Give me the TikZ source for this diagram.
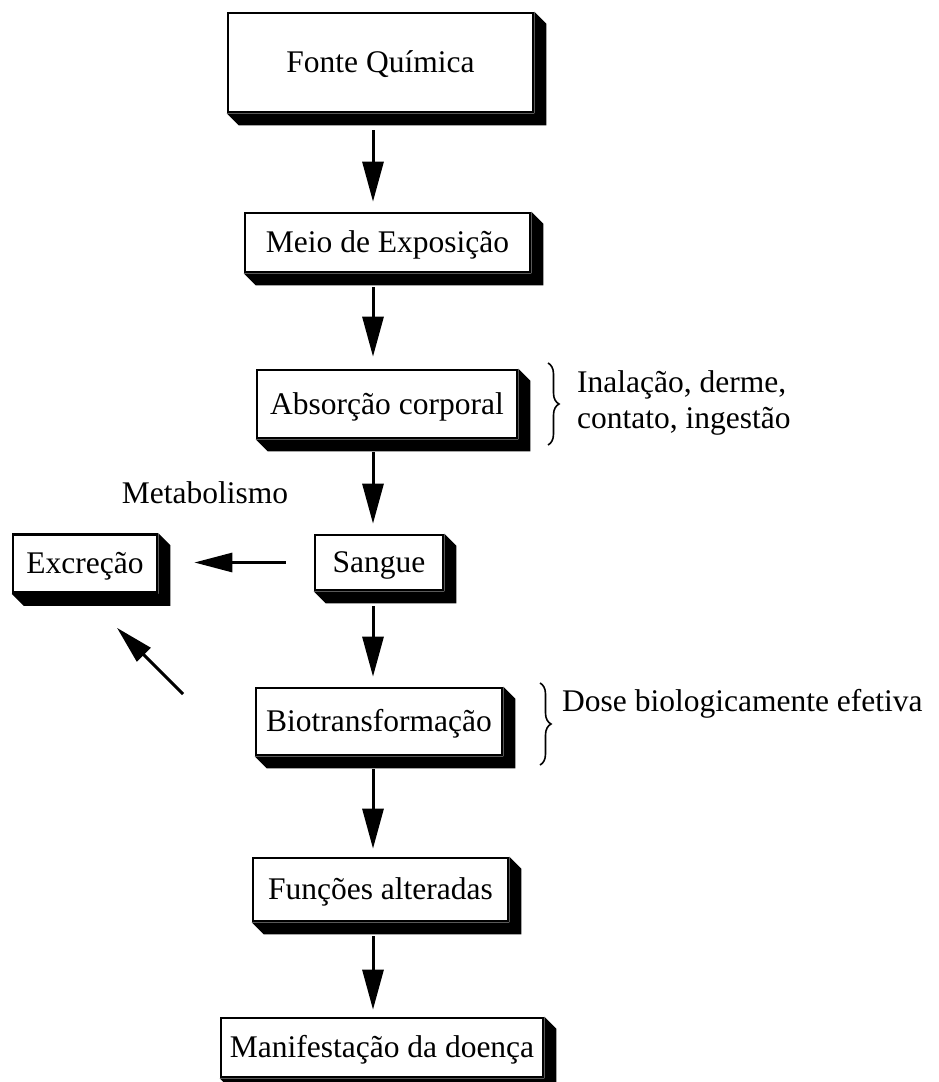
\documentclass[tikz,border=0pt]{standalone}
\usepackage{fontspec}
\setmainfont{Liberation Serif}
\usetikzlibrary{arrows.meta,decorations.pathreplacing,calc}
\newcommand\boxshadow[1]{%
  \fill (#1.north east) -- ([shift={(12pt,-12pt)}]#1.north east)
     -- ([shift={(12pt,-12pt)}]#1.south east)
     -- ([shift={(12pt,-12pt)}]#1.south west)
     -- (#1.south west) -- (#1.south east) -- cycle;}
\begin{document}
\begin{tikzpicture}[x=1pt,y=-1pt,
  txt/.style={font=\fontsize{31.5}{36}\selectfont, inner sep=0pt},
  stepbox/.style={txt, draw, line width=2.7pt, fill=white, text height=20pt, text depth=0pt},
  arr/.style={line width=3pt, -{Triangle[length=40pt,width=21pt]}},
  harr/.style={line width=3pt, -{Triangle[length=38pt,width=19pt]}},
  bracestyle/.style={line width=1.6pt, decorate, decoration={brace, amplitude=11pt}}
]
\fill[white] (0,0) rectangle (939,1082);
\useasboundingbox (0,0) rectangle (939,1082);

\node[stepbox, minimum width=305pt, minimum height=99pt] (fonte) at (380.5,62.5) {Fonte Química};
\node[stepbox, minimum width=285pt, minimum height=59pt] (meio) at (387.5,242.5) {Meio de Exposição};
\node[stepbox, minimum width=260pt, minimum height=68pt] (abs) at (387,404) {Absorção corporal};
\node[stepbox, minimum width=128pt, minimum height=55pt] (sangue) at (379,562.5) {Sangue};
\node[stepbox, minimum width=144pt, minimum height=58pt] (excr) at (85,563.5) {Excreção};
\node[stepbox, minimum width=246pt, minimum height=67pt] (bio) at (379,721.5) {Biotransformação};
\node[stepbox, minimum width=255pt, minimum height=63pt] (func) at (380.5,889.5) {Funções alteradas};
\node[stepbox, minimum width=322pt, minimum height=59pt] (manif) at (382,1047.5) {Manifestação da doença};

\foreach \n in {fonte,meio,abs,sangue,excr,bio,func,manif}{\boxshadow{\n}}

\coordinate (stemx) at (373,0);
\draw[arr] ([yshift=-17pt]fonte.south -| stemx) -- ([yshift=10pt]meio.north -| stemx);
\draw[arr] ([yshift=-14pt]meio.south -| stemx) -- ([yshift=12pt]abs.north -| stemx);
\draw[arr] ([yshift=-13pt]abs.south -| stemx) -- ([yshift=10pt]sangue.north -| stemx);
\draw[arr] ([yshift=-15pt]sangue.south -| stemx) -- ([yshift=10pt]bio.north -| stemx);
\draw[arr] ([yshift=-13pt]bio.south -| stemx) -- ([yshift=8pt]func.north -| stemx);
\draw[arr] ([yshift=-14pt]func.south -| stemx) -- ([yshift=7pt]manif.north -| stemx);

\draw[harr] ([xshift=-28pt]sangue.west) -- ([xshift=36pt]excr.east |- sangue.west);

\coordinate (metabstart) at (183,694);
\draw[harr] (metabstart) -- ([shift={(32pt,-34pt)}]excr.south);

\node[txt] (metab) at (205,493) {Metabolismo};

\draw[bracestyle] (548,363) -- (548,445) coordinate (brace1);
\node[txt, anchor=base west] (inal1) at (577,392) {Inalação, derme,};
\node[txt, anchor=base west] (inal2) at (577,428) {contato, ingestão};

\draw[bracestyle] (540,683) -- (540,765) coordinate (brace2);
\node[txt, anchor=base west] (dose) at (562,711) {Dose biologicamente efetiva};
\end{tikzpicture}
\end{document}
